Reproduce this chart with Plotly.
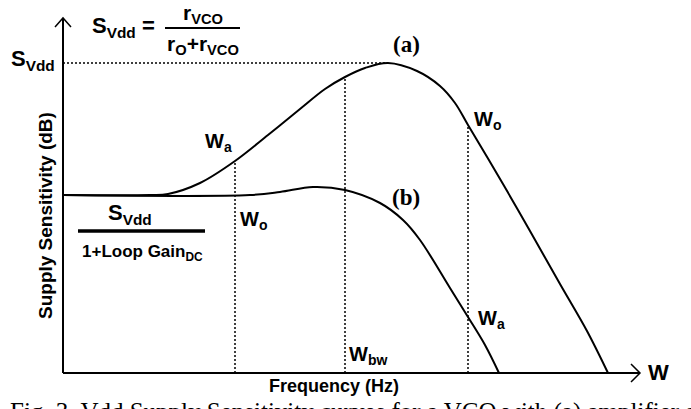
import numpy as np
import plotly.graph_objects as go

# Conceptual frequency axis (arbitrary units, origin at axis corner) and sensitivity (arbitrary dB units)
freq_a = [0, 87, 105, 137, 172, 205, 237, 262, 282, 302, 325, 354, 377, 392, 405, 440, 467, 497, 524, 545]
sens_a = [178, 178, 179, 190, 212, 238, 264, 284, 296, 305, 310, 302, 287, 270, 248, 189, 142, 89, 42, 0]
freq_b = [0, 187, 217, 250, 282, 317, 340, 357, 387, 405, 422, 436]
sens_b = [178, 178, 181, 186, 183, 170, 153, 133, 85, 56, 28, 0]

# characteristic frequencies: Wa (a) / Wo (b), Wbw, Wo (a) / Wa (b)
marker_freq = [172, 282, 405]
marker_level = list(np.interp(marker_freq, freq_a, sens_a))
peak_level = max(sens_a)
peak_freq = freq_a[sens_a.index(peak_level)]

X_RANGE = [-63, 628]
Y_RANGE = [-36, 373]
X_END, Y_END = 577, 355

SANS = "Liberation Sans, Arial, sans-serif"
SERIF = "Liberation Serif, Times New Roman, serif"

fig = go.Figure()
fig.add_trace(go.Scatter(x=freq_a, y=sens_a, mode="lines",
                         line=dict(color="black", width=2, shape="spline", smoothing=1.0),
                         hoverinfo="skip", showlegend=False))
fig.add_trace(go.Scatter(x=freq_b, y=sens_b, mode="lines",
                         line=dict(color="black", width=2, shape="spline", smoothing=1.0),
                         hoverinfo="skip", showlegend=False))

shapes = []
dot = dict(color="black", width=1.5, dash="2px,2px")
for f, lv in zip(marker_freq, marker_level):
    shapes.append(dict(type="line", x0=f, x1=f, y0=0, y1=lv, line=dot, layer="below"))
shapes.append(dict(type="line", x0=0, x1=peak_freq, y0=peak_level, y1=peak_level, line=dot, layer="below"))

ax = dict(color="black", width=2)
shapes += [
    dict(type="line", x0=0, x1=0, y0=0, y1=Y_END, line=ax),
    dict(type="line", x0=0, x1=X_END, y0=0, y1=0, line=ax),
    dict(type="path", path=f"M -8 {Y_END-9} L 0 {Y_END} L 8 {Y_END-9}", line=dict(color="black", width=1.5)),
    dict(type="path", path=f"M {X_END-9} 9 L {X_END} 0 L {X_END-9} -9", line=dict(color="black", width=1.5)),
    # fraction bars
    dict(type="line", x0=102, x1=177, y0=345, y1=345, line=dict(color="black", width=2)),
    dict(type="line", x0=15, x1=142, y0=142, y1=142, line=dict(color="black", width=3.5)),
]

def ann(text, x, y, size=20, family=SANS, bold=True, xanchor="center", yanchor="middle", angle=0,
        xref="x", yref="y"):
    return dict(text=text, x=x, y=y, xref=xref, yref=yref, showarrow=False,
                xanchor=xanchor, yanchor=yanchor, textangle=angle,
                font=dict(family=family, size=size, color="black", weight="bold" if bold else "normal"))

annotations = [
    ann("W<sub>a</sub>", 171, 231, xanchor="right"),
    ann("W<sub>o</sub>", 175, 153, xanchor="left"),
    ann("(a)", 343, 329, size=23, family=SERIF),
    ann("(b)", 343, 176, size=23, family=SERIF),
    ann("W<sub>o</sub>", 409, 253, xanchor="left"),
    ann("W<sub>a</sub>", 413, 54, xanchor="left"),
    ann("W<sub>bw</sub>", 284, 18, xanchor="left"),
    ann("W", 583, 1, size=22, xanchor="left"),
    ann("S<sub>Vdd</sub>", -30, 313, size=22),
    ann("S<sub>Vdd</sub> =", 94, 346, size=22, xanchor="right"),
    ann("r<sub>VCO</sub>", 140, 359, size=21),
    ann("r<sub>O</sub>+r<sub>VCO</sub>", 140, 328, size=21),
    ann("S<sub>Vdd</sub>", 67, 159, size=22),
    ann("1+Loop Gain<sub>DC</sub>", 79, 120, size=17),
    ann("Supply Sensitivity (dB)", -18, 157, size=19, angle=-90),
    ann("Frequency (Hz)", 271, -13, size=18),
    ann("Fig. 3. Vdd Supply Sensitivity curves for a VCO with (a) amplifier and", 8 / 691, -2.5 / 409,
        size=25, family=SERIF, bold=False, xanchor="left", xref="paper", yref="paper"),
]

fig.update_layout(
    width=691, height=409, margin=dict(l=0, r=0, t=0, b=0),
    paper_bgcolor="white", plot_bgcolor="white",
    xaxis=dict(range=X_RANGE, visible=False, fixedrange=True),
    yaxis=dict(range=Y_RANGE, visible=False, fixedrange=True),
    shapes=shapes, annotations=annotations, showlegend=False,
)
fig.write_html("out.html", config={"displayModeBar": False},
               post_script="document.body.style.margin='0';document.body.style.overflow='hidden';")
